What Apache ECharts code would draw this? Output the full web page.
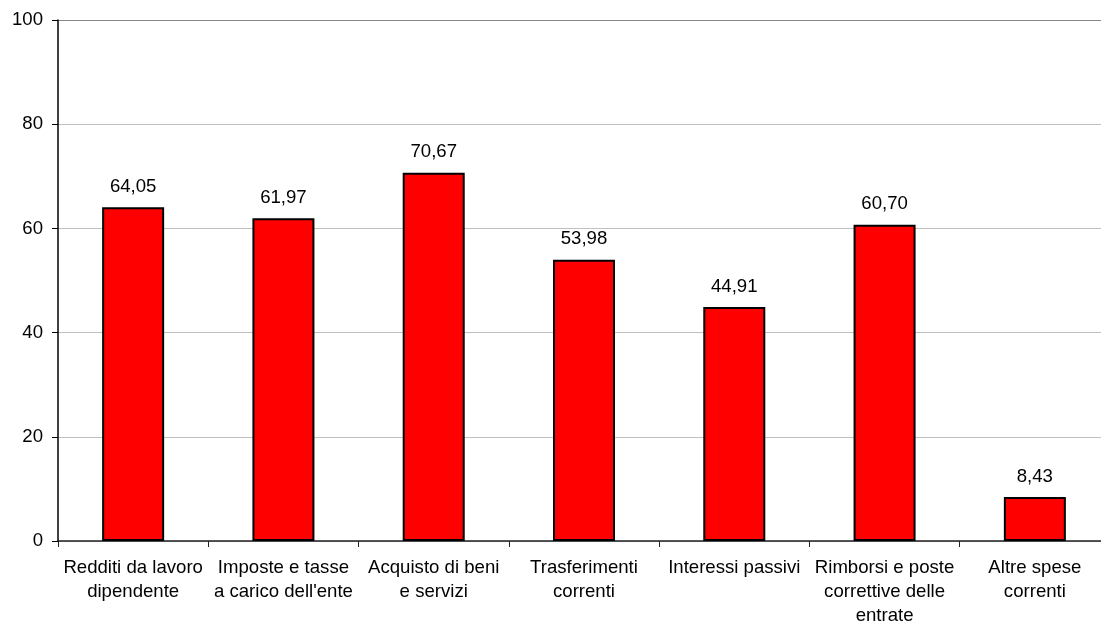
<!DOCTYPE html>
<html><head><meta charset="utf-8">
<script src="https://cdn.jsdelivr.net/npm/echarts@6/dist/echarts.min.js"></script>
<style>html,body{margin:0;padding:0;background:#fff;overflow:hidden}#c{width:1101px;height:625px}</style>
</head><body><div id="c"></div>
<script>
const categories = ["Redditi da lavoro\ndipendente","Imposte e tasse\na carico dell'ente","Acquisto di beni\ne servizi","Trasferimenti\ncorrenti","Interessi passivi","Rimborsi e poste\ncorrettive delle\nentrate","Altre spese\ncorrenti"];
const values = [64.05, 61.97, 70.67, 53.98, 44.91, 60.70, 8.43];
const yTicks = [0, 20, 40, 60, 80, 100];
const font = "'Liberation Sans', Arial, sans-serif";
const chart = echarts.init(document.getElementById('c'));
chart.setOption({
  animation: false,
  grid: {left: 58, top: 20, width: 1052, height: 521, containLabel: false, outerBoundsMode: 'none'},
  xAxis: {
    type: 'category', data: categories,
    axisLine: {lineStyle: {color: '#222', width: 1.5}},
    axisTick: {show: true, length: 6, inside: false, lineStyle: {color: '#222'}},
    axisLabel: {color: '#000', fontFamily: font, fontSize: 18.6, lineHeight: 24, margin: 15, interval: 0}
  },
  yAxis: {
    type: 'value', min: yTicks[0], max: yTicks[yTicks.length-1], interval: 20,
    axisLine: {show: true, lineStyle: {color: '#000', width: 1.5}},
    axisTick: {show: true, length: 6, lineStyle: {color: '#000'}},
    axisLabel: {color: '#000', fontFamily: font, fontSize: 18.6, margin: 15},
    splitLine: {lineStyle: {color: ['#c0c0c0','#c0c0c0','#c0c0c0','#c0c0c0','#c0c0c0','#888888'], width: 1}}
  },
  series: [{
    type: 'bar', data: values, barWidth: 62,
    itemStyle: {color: '#ff0000', borderColor: '#000', borderWidth: 2},
    label: {show: true, position: 'top', distance: 11, color: '#000', fontFamily: font, fontSize: 18.6,
      formatter: p => p.value.toFixed(2).replace('.', ',')}
  }]
});
</script></body></html>
